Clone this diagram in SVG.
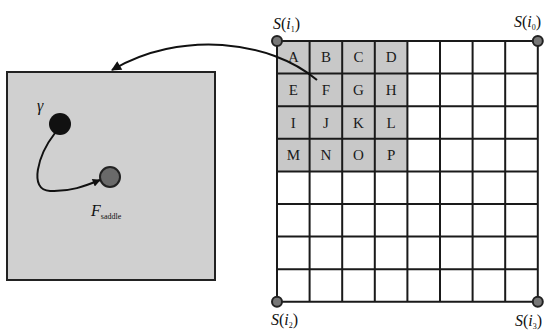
<svg xmlns="http://www.w3.org/2000/svg" width="550" height="332" viewBox="0 0 550 332">
<style>
.cell{font-family:"Liberation Serif",serif;font-size:15px;fill:#1a1a1a;text-anchor:middle;dominant-baseline:central}
.lbl{font-family:"Liberation Serif",serif;font-size:16px;fill:#111}
.g{stroke:#1a1a1a;stroke-width:2;fill:none}
.corner{fill:#777;stroke:#222;stroke-width:2}
</style>
<defs>
<marker id="ah" viewBox="0 0 10 10" refX="9" refY="5" markerWidth="11" markerHeight="8" orient="auto" markerUnits="userSpaceOnUse"><path d="M0,0 L10,5 L0,10 z" fill="#111"/></marker>
<marker id="ah2" viewBox="0 0 10 10" refX="9" refY="5" markerWidth="14" markerHeight="10" orient="auto" markerUnits="userSpaceOnUse"><path d="M0,0 L10,5 L0,10 z" fill="#111"/></marker>
</defs>
<rect width="550" height="332" fill="#fff"/>
<g id="box">
<rect x="7" y="72" width="208" height="208" fill="#d0d0d0" stroke="#222" stroke-width="2"/>
</g>
<g id="gamma">
<circle cx="60" cy="124" r="11" fill="#111"/>
<text x="37" y="111" class="lbl" font-style="italic" font-size="16">γ</text>
</g>
<g id="fnode">
<circle cx="110" cy="177" r="10" fill="#6a6a6a" stroke="#222" stroke-width="2"/>
<text x="91" y="216" class="lbl" font-style="italic" font-size="18">F<tspan font-size="8" font-style="normal" dy="3">saddle</tspan></text>
</g>
<g id="grid">
<rect x="277" y="41" width="130.4" height="130.4" fill="#c8c8c8"/>
<path class="g" d="M277,41V302M309.6,41V302M342.2,41V302M374.8,41V302M407.4,41V302M440,41V302M472.6,41V302M505.2,41V302M537.8,41V302M277,41H537.8M277,73.6H537.8M277,106.2H537.8M277,138.8H537.8M277,171.4H537.8M277,204H537.8M277,236.6H537.8M277,269.2H537.8M277,301.8H537.8"/>
<text class="cell" x="293.3" y="57.3">A</text><text class="cell" x="325.9" y="57.3">B</text><text class="cell" x="358.5" y="57.3">C</text><text class="cell" x="391.1" y="57.3">D</text>
<text class="cell" x="293.3" y="89.9">E</text><text class="cell" x="325.9" y="89.9">F</text><text class="cell" x="358.5" y="89.9">G</text><text class="cell" x="391.1" y="89.9">H</text>
<text class="cell" x="293.3" y="122.5">I</text><text class="cell" x="325.9" y="122.5">J</text><text class="cell" x="358.5" y="122.5">K</text><text class="cell" x="391.1" y="122.5">L</text>
<text class="cell" x="293.3" y="155.1">M</text><text class="cell" x="325.9" y="155.1">N</text><text class="cell" x="358.5" y="155.1">O</text><text class="cell" x="391.1" y="155.1">P</text>
</g>
<g id="corners">
<circle class="corner" cx="277" cy="41" r="5"/>
<circle class="corner" cx="537.8" cy="41" r="5"/>
<circle class="corner" cx="277" cy="301.8" r="5"/>
<circle class="corner" cx="537.8" cy="301.8" r="5"/>
<text class="lbl" x="273" y="29"><tspan font-style="italic">S</tspan>(<tspan font-style="italic">i</tspan><tspan font-size="8" dy="3">1</tspan><tspan dy="-3">)</tspan></text>
<text class="lbl" x="514" y="27"><tspan font-style="italic">S</tspan>(<tspan font-style="italic">i</tspan><tspan font-size="8" dy="3">0</tspan><tspan dy="-3">)</tspan></text>
<text class="lbl" x="271" y="325"><tspan font-style="italic">S</tspan>(<tspan font-style="italic">i</tspan><tspan font-size="8" dy="3">2</tspan><tspan dy="-3">)</tspan></text>
<text class="lbl" x="515" y="326"><tspan font-style="italic">S</tspan>(<tspan font-style="italic">i</tspan><tspan font-size="8" dy="3">3</tspan><tspan dy="-3">)</tspan></text>
</g>
<g id="connectors" fill="none" stroke="#111" stroke-width="2">
<path d="M317,80 C270,40 180,30 112,70" marker-end="url(#ah2)"/>
<path d="M55,133 C38,155 28,190 50,191 C70,192 85,186 100,180" marker-end="url(#ah)"/>
</g>
</svg>
